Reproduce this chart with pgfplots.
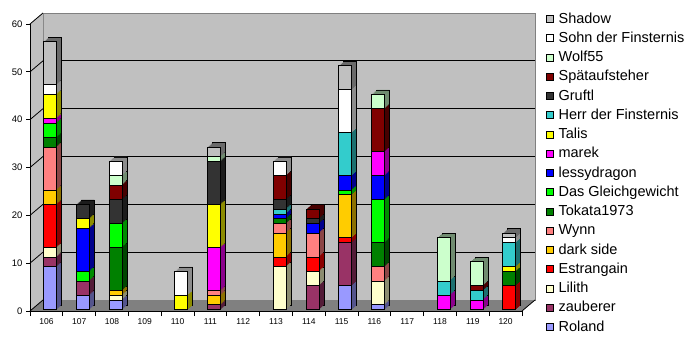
\documentclass[border=0pt]{standalone}
\usepackage{fontspec}
\setmainfont{Liberation Sans}
\usepackage{pgfplots}
\usepackage{pgfplotstable}
\pgfplotsset{compat=1.18}

\definecolor{cRo}{HTML}{9999FF}
\definecolor{cZa}{HTML}{993366}
\definecolor{cLi}{HTML}{FFFFCC}
\definecolor{cEs}{HTML}{FF0000}
\definecolor{cDs}{HTML}{FFCC00}
\definecolor{cWy}{HTML}{FF8080}
\definecolor{cTo}{HTML}{008000}
\definecolor{cDg}{HTML}{00FF00}
\definecolor{cLe}{HTML}{0000FF}
\definecolor{cMa}{HTML}{FF00FF}
\definecolor{cTa}{HTML}{FFFF00}
\definecolor{cHe}{HTML}{33CCCC}
\definecolor{cGr}{HTML}{333333}
\definecolor{cSp}{HTML}{800000}
\definecolor{cWo}{HTML}{CCFFCC}
\definecolor{cSo}{HTML}{FFFFFF}
\definecolor{cSh}{HTML}{C0C0C0}
\definecolor{wallgray}{HTML}{C0C0C0}
\definecolor{floorgray}{HTML}{808080}

\pgfplotstableread{
x Ro Za Li Es Ds Wy To Dg Le Ma Ta He Gr Sp Wo So Sh
106 9 2 2 9 3 9 2 3 0 1 5 0 0 0 0 2 9
107 3 3 0 0 0 0 0 2 9 0 2 0 3 0 0 0 0
108 2 0 1 0 1 0 9 5 0 0 0 0 5 3 2 3 0
110 0 0 0 0 0 0 0 0 0 0 3 0 0 0 0 5 0
111 0 1 0 0 2 1 0 0 0 9 9 0 9 0 1 0 2
113 0 0 9 2 5 2 1 0 1 0 0 1 2 5 0 3 0
114 0 5 3 3 0 5 0 0 2 0 0 0 1 2 0 0 0
115 5 9 0 1 9 0 0 1 3 0 0 9 0 0 0 9 5
116 1 0 5 0 0 3 5 9 5 5 0 0 0 9 3 0 0
118 0 0 0 0 0 0 0 0 0 3 0 3 0 0 9 0 0
119 0 0 0 0 0 0 0 0 0 2 0 2 0 1 5 0 0
120 0 0 0 5 0 0 3 0 0 0 1 5 0 0 0 1 1
}\data

\pgfplotsset{
  base/.style={scale only axis, width=492pt, height=287pt,
    xmin=105.5, xmax=120.5, ymin=0, ymax=60, anchor=south west},
  barax/.style={base, hide axis, ybar stacked, bar width=13pt, clip=false},
  front/.style={fill=#1, draw=black, line width=1pt},
  side/.style={fill=#1!55!black, draw=none},
  sideo/.style={fill=#1!55!black, draw=black, line width=0.8pt},
}

\newcommand\allbars[1]{%
\addplot[#1=cRo] table[x=x,y=Ro]{\data};
\addplot[#1=cZa] table[x=x,y=Za]{\data};
\addplot[#1=cLi] table[x=x,y=Li]{\data};
\addplot[#1=cEs] table[x=x,y=Es]{\data};
\addplot[#1=cDs] table[x=x,y=Ds]{\data};
\addplot[#1=cWy] table[x=x,y=Wy]{\data};
\addplot[#1=cTo] table[x=x,y=To]{\data};
\addplot[#1=cDg] table[x=x,y=Dg]{\data};
\addplot[#1=cLe] table[x=x,y=Le]{\data};
\addplot[#1=cMa] table[x=x,y=Ma]{\data};
\addplot[#1=cTa] table[x=x,y=Ta]{\data};
\addplot[#1=cHe] table[x=x,y=He]{\data};
\addplot[#1=cGr] table[x=x,y=Gr]{\data};
\addplot[#1=cSp] table[x=x,y=Sp]{\data};
\addplot[#1=cWo] table[x=x,y=Wo]{\data};
\addplot[#1=cSo] table[x=x,y=So]{\data};
\addplot[#1=cSh] table[x=x,y=Sh]{\data};
}
\newcommand\sidecopy[3]{%
\begin{axis}[barax, at={(#1pt,#2pt)}]
\allbars{#3}
\end{axis}}

\begin{document}
\begin{tikzpicture}[x=1pt,y=1pt]
\useasboundingbox (0,0) rectangle (690,340);
% back wall
\begin{axis}[base, at={(43pt,40pt)},
  axis background/.style={fill=wallgray},
  axis line style={draw=floorgray, line width=0.8pt},
  xtick=\empty, ytick={10,20,30,40,50},
  yticklabels={}, major tick length=0pt,
  ymajorgrids, grid style={black, line width=0.8pt}]
\end{axis}
% left wall and floor
\fill[wallgray] (30,29) -- (30,316) -- (43,327) -- (43,40) -- cycle;
\fill[floorgray] (30,29) -- (522,29) -- (535,40) -- (43,40) -- cycle;
\foreach \v in {0,10,...,60} {
  \draw[black, line width=0.8pt] (30,29+4.7833*\v) -- (43,40+4.7833*\v);
}
\draw[black, line width=0.8pt] (522,29) -- (535,40);
% bar side copies (depth)
\sidecopy{38.7}{34.8}{sideo}
\sidecopy{37.7}{33.9}{side}
\sidecopy{36.7}{33.0}{side}
\sidecopy{35.7}{32.1}{side}
\sidecopy{34.7}{31.2}{side}
% front faces + legend
\begin{axis}[barax, at={(33.7pt,30.3pt)},
  reverse legend,
  legend cell align=left,
  legend image code/.code={\draw[#1,draw=black,line width=0.6pt] (0pt,-3.5pt) rectangle (7pt,3.5pt);},
  legend style={at={(1.04126,1.03728)}, anchor=north west, draw=none, fill=none,
    inner sep=0pt, outer sep=0pt, row sep=5.25pt, column sep=5pt,
    font=\fontsize{14.5pt}{17pt}\selectfont,
    nodes={inner sep=0pt, text height=11pt, text depth=3pt}}]
\allbars{front}
\legend{Roland, zauberer, Lilith, Estrangain, dark side, Wynn, Tokata1973,
  Das Gleichgewicht, lessydragon, marek, Talis, Herr der Finsternis, Gruftl,
  Spätaufsteher, Wolf55, Sohn der Finsternis, Shadow}
\end{axis}
% front frame
\begin{axis}[base, at={(30pt,29pt)},
  axis lines*=left, axis line style={-, black, line width=0.8pt},
  tick align=outside, major tick length=4pt, minor tick length=5pt,
  xtick={106,...,120}, minor xtick={105.5,106.5,...,120.5},
  major x tick style={draw=none},
  minor x tick style={draw=black, line width=0.8pt},
  ytick={0,10,...,60}, y tick style={black, line width=0.8pt},
  /pgf/number format/assume math mode=true,
  /pgf/number format/1000 sep={},
  yticklabel style={font=\fontsize{9.5pt}{11pt}\selectfont},
  xticklabel style={font=\fontsize{8.5pt}{10pt}\selectfont}]
\end{axis}
\end{tikzpicture}
\end{document}
